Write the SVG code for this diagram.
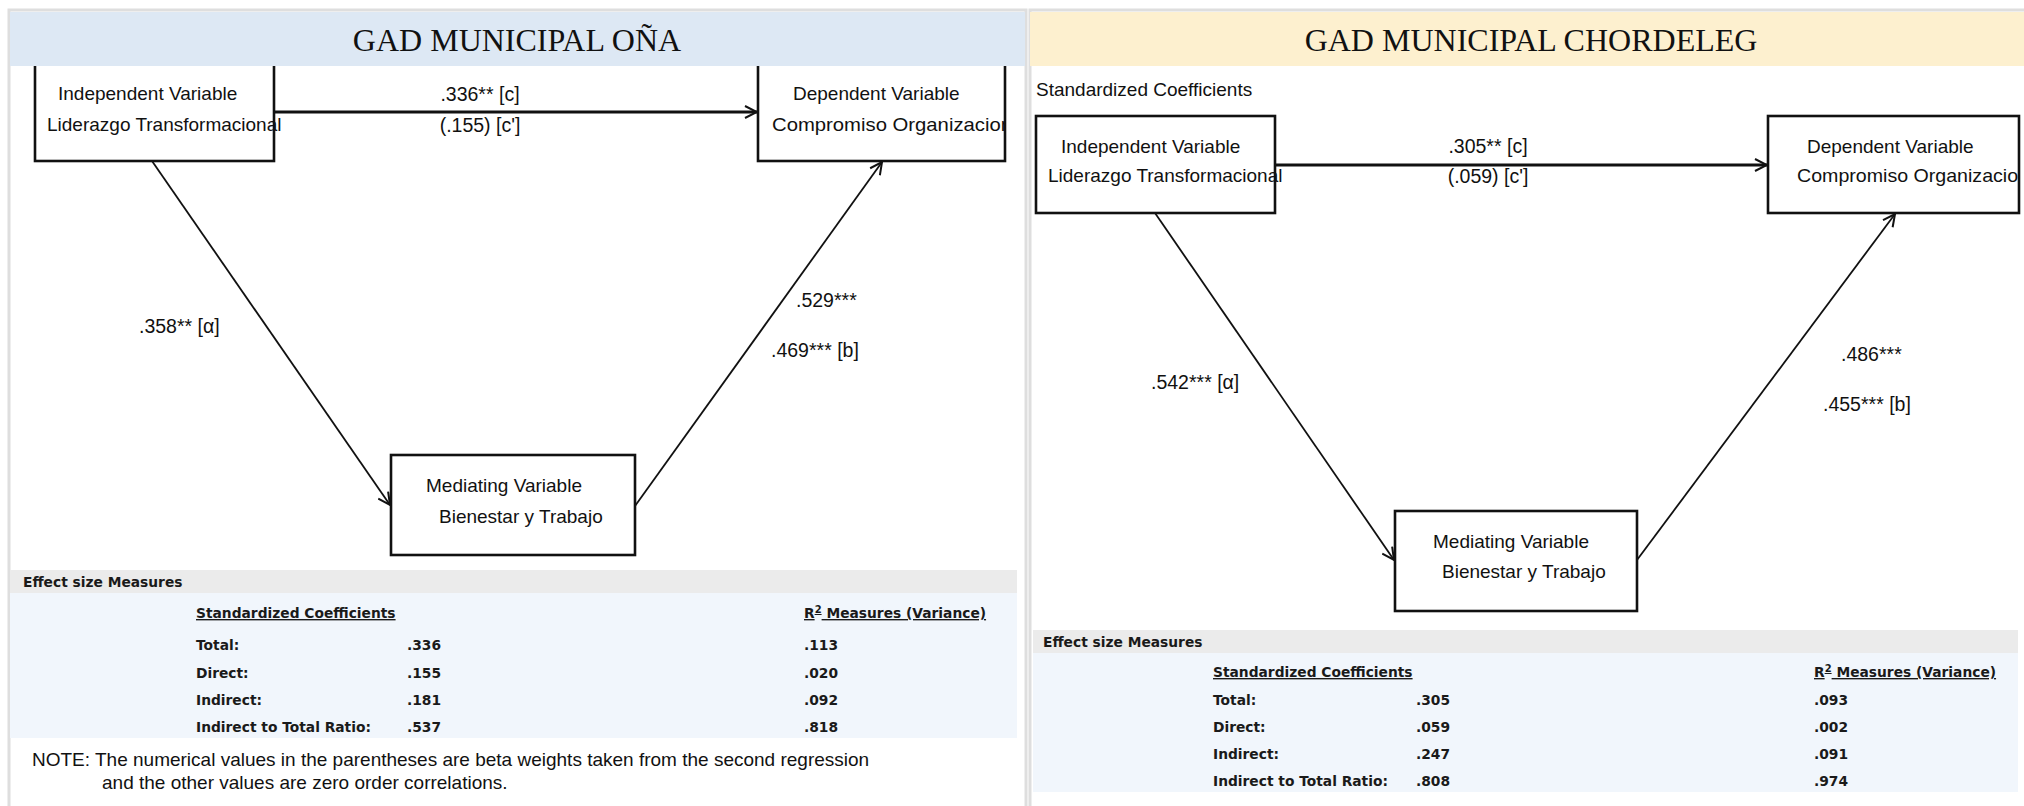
<svg xmlns="http://www.w3.org/2000/svg" width="2024" height="806" viewBox="0 0 2024 806">
<defs>
<style>
.bg{fill:#ffffff}
.panel{fill:#ffffff;stroke:#dedede;stroke-width:3}
.hdrL{fill:#dde8f4}
.hdrR{fill:#fdf0cf}
.title{font-family:"Liberation Serif","Times New Roman",serif;font-size:32px;fill:#111;text-anchor:middle}
.box{fill:#ffffff;stroke:#111;stroke-width:2.6}
.t{font-family:"Liberation Sans",Arial,sans-serif;font-size:19px;fill:#111}
.lbl{font-family:"Liberation Sans",Arial,sans-serif;font-size:19.5px;fill:#111}
.mid{text-anchor:middle}
.cline{stroke:#111;stroke-width:2.8;fill:none}
.dline{stroke:#111;stroke-width:1.8;fill:none}
.gbar{fill:#ebebeb}
.tbl{fill:#f1f6fc}
.tt{font-family:"DejaVu Sans",Verdana,sans-serif;font-weight:bold;font-size:13.8px;fill:#1a1a1a}
.ul{text-decoration:underline}
.note{font-family:"Liberation Sans",Arial,sans-serif;font-size:19px;fill:#111}
</style>
<marker id="arr" viewBox="0 0 14 14" refX="13" refY="7" markerWidth="14" markerHeight="14" markerUnits="userSpaceOnUse" orient="auto">
<path d="M1,1 L13,7 L1,13" fill="none" stroke="#111" stroke-width="2"/>
</marker>
<clipPath id="clipDL"><rect x="758" y="60" width="246" height="110"/></clipPath>
<clipPath id="clipDR"><rect x="1768" y="116" width="250" height="98"/></clipPath>
</defs>
<rect class="bg" x="0" y="0" width="2024" height="806"/>

<!-- LEFT PANEL -->
<g id="panel-left">
<rect class="panel" x="9" y="10" width="1017" height="800"/>
</g>
<g id="node-ind-left">
<rect class="box" x="35" y="50" width="239" height="111"/>
<text class="t" x="58" y="100">Independent Variable</text>
<text class="t" x="47" y="131">Liderazgo Transformacional</text>
</g>
<g id="node-dep-left">
<rect class="box" x="758" y="50" width="247" height="111"/>
<g clip-path="url(#clipDL)">
<text class="t" x="793" y="100">Dependent Variable</text>
<text class="t" x="772" y="131" textLength="240" lengthAdjust="spacingAndGlyphs">Compromiso Organizacion</text>
</g>
</g>
<g id="node-med-left">
<rect class="box" x="391" y="455" width="244" height="100"/>
<text class="t" x="426" y="492">Mediating Variable</text>
<text class="t" x="439" y="523">Bienestar y Trabajo</text>
</g>
<g id="header-left">
<rect class="hdrL" x="10" y="12" width="1015" height="54"/>
<text class="title" x="517" y="51">GAD MUNICIPAL OÑA</text>
</g>
<g id="connectors-left">
<line class="cline" x1="274" y1="112" x2="757" y2="112" marker-end="url(#arr)"/>
<line class="dline" x1="152" y1="161" x2="390" y2="505" marker-end="url(#arr)"/>
<line class="dline" x1="635" y1="506" x2="882" y2="162" marker-end="url(#arr)"/>
<text class="lbl mid" x="480" y="101">.336** [c]</text>
<text class="lbl mid" x="480" y="132">(.155) [c']</text>
<text class="lbl" x="139" y="333">.358** [α]</text>
<text class="lbl" x="796" y="307">.529***</text>
<text class="lbl" x="771" y="357">.469*** [b]</text>
</g>
<g id="table-left">
<rect class="gbar" x="10" y="570" width="1007" height="23"/>
<rect class="tbl" x="10" y="593" width="1007" height="145"/>
<text class="tt" x="23" y="587">Effect size Measures</text>
<text class="tt ul" x="196" y="618">Standardized Coefficients</text>
<text class="tt ul" x="804" y="618">R<tspan dy="-5" font-size="10">2</tspan><tspan dy="5"> Measures (Variance)</tspan></text>
<text class="tt" x="196" y="650">Total:</text>
<text class="tt" x="407" y="650">.336</text>
<text class="tt" x="804" y="650">.113</text>
<text class="tt" x="196" y="678">Direct:</text>
<text class="tt" x="407" y="678">.155</text>
<text class="tt" x="804" y="678">.020</text>
<text class="tt" x="196" y="705">Indirect:</text>
<text class="tt" x="407" y="705">.181</text>
<text class="tt" x="804" y="705">.092</text>
<text class="tt" x="196" y="732">Indirect to Total Ratio:</text>
<text class="tt" x="407" y="732">.537</text>
<text class="tt" x="804" y="732">.818</text>
<text class="note" x="32" y="766">NOTE: The numerical values in the parentheses are beta weights taken from the second regression</text>
<text class="note" x="102" y="789">and the other values are zero order correlations.</text>
</g>

<!-- RIGHT PANEL -->
<g id="panel-right">
<rect class="panel" x="1030" y="10" width="1000" height="800"/>
</g>
<g id="header-right">
<rect class="hdrR" x="1030" y="12" width="994" height="54"/>
<text class="title" x="1531" y="51">GAD MUNICIPAL CHORDELEG</text>
</g>
<text class="t" x="1036" y="96">Standardized Coefficients</text>
<g id="node-ind-right">
<rect class="box" x="1036" y="116" width="239" height="97"/>
<text class="t" x="1061" y="153">Independent Variable</text>
<text class="t" x="1048" y="182">Liderazgo Transformacional</text>
</g>
<g id="node-dep-right">
<rect class="box" x="1768" y="116" width="251" height="97"/>
<g clip-path="url(#clipDR)">
<text class="t" x="1807" y="153">Dependent Variable</text>
<text class="t" x="1797" y="182" textLength="232" lengthAdjust="spacingAndGlyphs">Compromiso Organizacion</text>
</g>
</g>
<g id="node-med-right">
<rect class="box" x="1395" y="511" width="242" height="100"/>
<text class="t" x="1433" y="548">Mediating Variable</text>
<text class="t" x="1442" y="578">Bienestar y Trabajo</text>
</g>
<g id="connectors-right">
<line class="cline" x1="1275" y1="165" x2="1767" y2="165" marker-end="url(#arr)"/>
<line class="dline" x1="1155" y1="213" x2="1394" y2="560" marker-end="url(#arr)"/>
<line class="dline" x1="1637" y1="560" x2="1895" y2="214" marker-end="url(#arr)"/>
<text class="lbl mid" x="1488" y="153">.305** [c]</text>
<text class="lbl mid" x="1488" y="183">(.059) [c']</text>
<text class="lbl" x="1151" y="389">.542*** [α]</text>
<text class="lbl" x="1841" y="361">.486***</text>
<text class="lbl" x="1823" y="411">.455*** [b]</text>
</g>
<g id="table-right">
<rect class="gbar" x="1033" y="630" width="985" height="23"/>
<rect class="tbl" x="1033" y="653" width="985" height="139"/>
<text class="tt" x="1043" y="647">Effect size Measures</text>
<text class="tt ul" x="1213" y="677">Standardized Coefficients</text>
<text class="tt ul" x="1814" y="677">R<tspan dy="-5" font-size="10">2</tspan><tspan dy="5"> Measures (Variance)</tspan></text>
<text class="tt" x="1213" y="705">Total:</text>
<text class="tt" x="1416" y="705">.305</text>
<text class="tt" x="1814" y="705">.093</text>
<text class="tt" x="1213" y="732">Direct:</text>
<text class="tt" x="1416" y="732">.059</text>
<text class="tt" x="1814" y="732">.002</text>
<text class="tt" x="1213" y="759">Indirect:</text>
<text class="tt" x="1416" y="759">.247</text>
<text class="tt" x="1814" y="759">.091</text>
<text class="tt" x="1213" y="786">Indirect to Total Ratio:</text>
<text class="tt" x="1416" y="786">.808</text>
<text class="tt" x="1814" y="786">.974</text>
</g>
</svg>
